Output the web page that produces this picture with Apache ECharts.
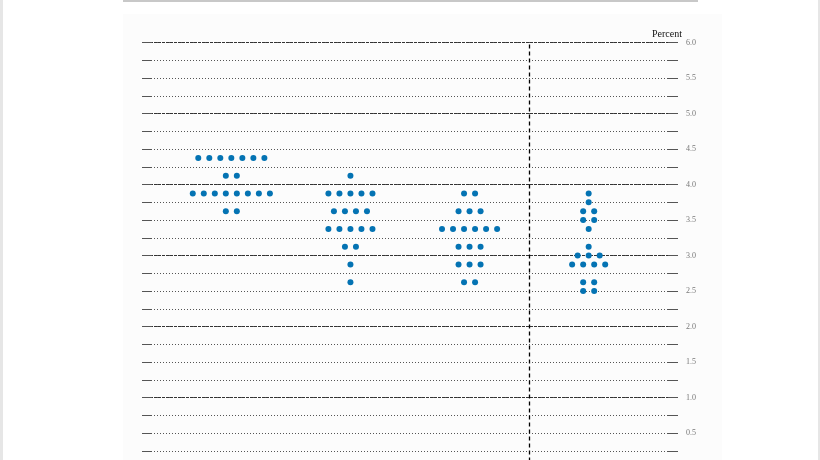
<!DOCTYPE html>
<html>
<head>
<meta charset="utf-8">
<script src="https://cdn.jsdelivr.net/npm/echarts@6/dist/echarts.min.js"></script>
<style>
  html, body { margin:0; padding:0; width:820px; height:460px; overflow:hidden; background:#ffffff; }
  #lstrip { position:absolute; left:0; top:0; width:3px; height:460px; background:#e6e6e6; }
  #rstrip { position:absolute; left:818px; top:0; width:2px; height:460px; background:#e6e6e6; }
  #card { position:absolute; left:123px; top:14px; width:599px; height:520px; background:#fcfcfc; }
  #topline { position:absolute; left:123px; top:0; width:575px; height:2px; background:#c8c8c8; }
  #chart { position:absolute; left:0; top:0; width:820px; height:520px; }
</style>
</head>
<body>
<div id="lstrip"></div>
<div id="rstrip"></div>
<div id="card"></div>
<div id="topline"></div>
<div id="chart"></div>
<script>
// Categories (x axis)
const categories = ['2025', '2026', '2027', 'Longer run'];
// Each entry: [rate, number of participants]
const dots2025 = [[4.375, 7], [4.125, 2], [3.875, 8], [3.625, 2]];
const dots2026 = [[4.125, 1], [3.875, 5], [3.625, 4], [3.375, 5], [3.125, 2], [2.875, 1], [2.625, 1]];
const dots2027 = [[3.875, 2], [3.625, 3], [3.375, 6], [3.125, 3], [2.875, 3], [2.625, 2]];
const dotsLongerRun = [[3.875, 1], [3.75, 1], [3.625, 2], [3.5, 2], [3.375, 1], [3.125, 1], [3.0, 3], [2.875, 4], [2.625, 2], [2.5, 2]];
const yTickLabels = ['0.5', '1.0', '1.5', '2.0', '2.5', '3.0', '3.5', '4.0', '4.5', '5.0', '5.5', '6.0'];

const allDots = [dots2025, dots2026, dots2027, dotsLongerRun];
const STEP = 0.0925; // horizontal spacing between dots in a row (x-axis units)

const points = [];
allDots.forEach((rows, ci) => {
  const center = ci + 1;
  rows.forEach(([rate, n]) => {
    for (let j = 0; j < n; j++) {
      points.push([center + (j - (n - 1) / 2) * STEP, rate]);
    }
  });
});

const chart = echarts.init(document.getElementById('chart'), null, { renderer: 'canvas' });
const serif = '"Liberation Serif", "DejaVu Serif", serif';

chart.setOption({
  animation: false,
  backgroundColor: 'transparent',
  grid: { left: 142, right: 142, top: 42.5, height: 426, containLabel: false, outerBoundsMode: 'none' },
  xAxis: {
    type: 'value', min: 0.25, max: 4.75, interval: 0.25,
    axisLine: { show: false }, axisTick: { show: false }, splitLine: { show: false },
    axisLabel: {
      fontFamily: serif, fontSize: 10, color: '#222',
      formatter: v => (Math.abs(v - Math.round(v)) < 1e-6 && v >= 1 && v <= 4) ? categories[Math.round(v) - 1] : ''
    }
  },
  yAxis: [
    {
      type: 'value', position: 'right', min: 0, max: 6, interval: 0.25,
      axisLine: { show: false },
      axisTick: { show: true, inside: true, length: 10, lineStyle: { color: '#555', width: 1 } },
      axisLabel: {
        margin: 8, fontFamily: serif, fontSize: 8, color: '#777',
        formatter: v => { const s = v.toFixed(1); return (Math.abs(v * 2 - Math.round(v * 2)) < 1e-6 && yTickLabels.includes(s)) ? s : ''; }
      },
      splitLine: { show: true, lineStyle: { color: '#555', width: 1, type: [1, 2] } }
    },
    {
      type: 'value', position: 'left', min: 0, max: 6, interval: 0.25,
      axisLine: { show: false },
      axisTick: { show: true, inside: true, length: 10, lineStyle: { color: '#555', width: 1 } },
      axisLabel: { show: false },
      splitLine: { show: false }
    },
    {
      type: 'value', position: 'left', min: 0, max: 6, interval: 1,
      axisLine: { show: false }, axisTick: { show: false }, axisLabel: { show: false },
      splitLine: { show: true, lineStyle: { color: '#333', width: 1, type: [3, 1] } }
    }
  ],
  graphic: [
    { type: 'text', right: 820 - 682, top: 29, style: { text: 'Percent', font: '10px ' + serif, fill: '#111' } }
  ],
  series: [
    {
      type: 'scatter', yAxisIndex: 0, symbol: 'circle', symbolSize: 6,
      itemStyle: { color: '#0473b3', opacity: 1 },
      data: points,
      z: 5,
      markLine: {
        silent: true, symbol: 'none', label: { show: false },
        lineStyle: { color: '#000', width: 1.3, type: [4, 3] },
        data: [{ xAxis: 3.5 }]
      }
    }
  ]
});
</script>
</body>
</html>
